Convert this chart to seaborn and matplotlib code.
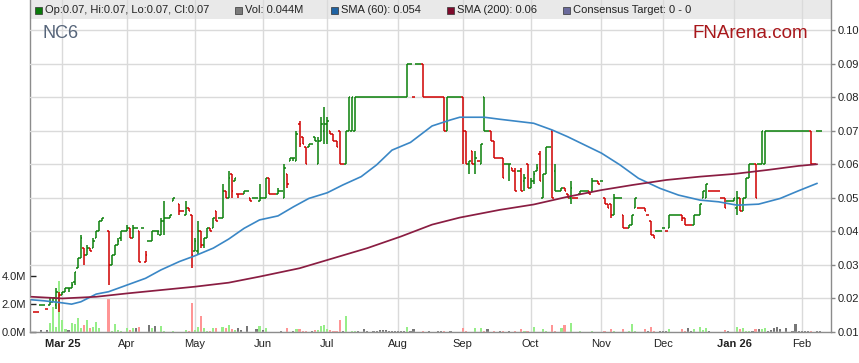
import numpy as np
import pandas as pd
import matplotlib
matplotlib.use("Agg")
import matplotlib.pyplot as plt
from matplotlib.patches import Rectangle
from matplotlib.ticker import FuncFormatter
import seaborn as sns

# trading days (Mon-Fri) from 17 Feb 2025, prices in tenths of a cent (0.001 $)
start_date = "2025-02-17"
n_days = 260
ticker = "NC6"

opens = [
    None, 16, 16, 18, 18, 17, 18, 19, 18, 20,  # Feb
    21, 22, 23, 23, 25, 29, 32, 35, 33, 35, 35, 38, 40, 43, None, 40, 30, 33, 36, 38, 40,  # Mar
    40, 41, 38, 41, 40, 41, 31, 37, 37, 40, 40, 39, 43, 44, 44, 49, None, 48, 46, 45, 47, 45,  # Apr
    34, 34, 40, 36, 38, 41, 41, 46, 44, 44, 52, 50, 57, 55, 51, 51, 51, 52, 50, 50, 50, 49,  # May
    50, 50, 56, 51, 51, 51, 52, 50, 57, 61, 62, 61, 72, 68, 65, 65, 66, 68, 60, 67, 70,  # Jun
    72, 70, 69, 67, 70, 60, 60, 70, 70, 70, 80, 80, 80, 80, 80, 80, 80, 80, 80, 80, 80, 80, 80,  # Jul
    80, 80, 80, 80, 90, 80, 90, 90, 90, 80, 80, 80, 80, 80, 80, 80, 70, 80, 80, 80, 80,  # Aug
    80, 70, 60, 64, 60, 61, 60, 80, 70, 70, 67, 62, 62, 62, 60, 60, 59, 58, 58, 58, 55, 60,  # Sep
    53, 55, 58, 63, 50, 57, 65, 70, 58, 52, 52, 53, 51, 50, 50, 50, 51, 52, 52, 52, 52, 55, 55,  # Oct
    55, 50, 48, 48, 45, 50, 50, 45, 41, 41, 42, 47, 47, 47, 47, 45, 43, 39, 40, 40,  # Nov
    41, 40, 41, 45, 45, 45, 45, 44, 42, 42, 42, 45, 45, 50, 50, 52, 52, 52, 52, 50, 50, 49, 49,  # Dec
    49, 47, 50, 46, 50, 56, 60, 60, 60, 60, 60, 70, 70, 70, 70, 70, 70, 70, 70, 70, 70, 70,  # Jan
    70, 70, 70, 70, 60, 70, 70,  # Feb
]
highs = [
    None, 16, 16, 18, 18, 17, 20, 20, 23, 22,
    22, 23, 23, 25, 28, 32, 39, 35, 36, 35, 38, 40, 43, 44, None, 40, 33, 36, 38, 40, 40,
    42, 41, 42, 41, 40, 41, 34, 37, 40, 40, 40, 44, 49, 44, 45, 50, None, 48, 46, 49, 47, 45,
    38, 43, 40, 38, 41, 41, 44, 46, 44, 54, 52, 58, 57, 56, 51, 51, 52, 52, 50, 50, 50, 54,
    50, 56, 56, 51, 51, 53, 52, 60, 57, 62, 62, 70, 73, 68, 65, 66, 66, 68, 68, 74, 77,
    74, 70, 69, 67, 70, 60, 70, 80, 80, 80, 80, 80, 80, 80, 80, 80, 80, 80, 80, 80, 80, 80, 80,
    80, 80, 80, 90, 90, 80, 90, 90, 90, 80, 80, 80, 80, 80, 80, 80, 80, 80, 80, 80, 80,
    80, 70, 61, 64, 64, 61, 66, 80, 70, 70, 67, 62, 62, 62, 60, 60, 59, 59, 58, 59, 57, 60,
    56, 58, 60, 64, 57, 65, 65, 70, 60, 52, 53, 53, 51, 55, 50, 50, 52, 52, 52, 52, 56, 55, 55,
    55, 50, 48, 48, 51, 50, 50, 45, 41, 42, 45, 50, 47, 47, 47, 45, 43, 39, 40, 40,
    41, 40, 45, 45, 45, 45, 45, 44, 42, 42, 45, 45, 48, 52, 54, 52, 52, 52, 52, 50, 50, 49, 49,
    50, 52, 50, 50, 56, 60, 60, 60, 60, 70, 70, 70, 70, 70, 70, 70, 70, 70, 70, 70, 70, 70,
    70, 70, 70, 70, 60, 70, 70,
]
lows = [
    None, 16, 16, 18, 18, 17, 18, 19, 17, 16,
    21, 22, 22, 23, 24, 29, 32, 30, 33, 34, 35, 38, 40, 43, None, 24, 30, 33, 36, 37, 40,
    40, 38, 38, 41, 31, 41, 31, 37, 37, 40, 39, 39, 39, 44, 44, 49, None, 45, 46, 45, 46, 29,
    34, 33, 35, 35, 38, 40, 41, 43, 44, 44, 50, 50, 50, 55, 50, 51, 51, 52, 49, 50, 50, 49,
    50, 50, 51, 51, 51, 51, 52, 50, 53, 61, 61, 61, 65, 66, 60, 65, 66, 67, 60, 67, 66,
    66, 69, 67, 65, 60, 60, 60, 70, 70, 70, 80, 80, 80, 80, 80, 80, 80, 80, 80, 80, 80, 80, 80,
    80, 80, 80, 80, 90, 80, 90, 90, 80, 80, 80, 80, 80, 80, 80, 70, 70, 80, 80, 80, 80,
    60, 60, 57, 60, 57, 61, 60, 70, 70, 67, 62, 62, 62, 56, 60, 55, 58, 52, 58, 52, 52, 53,
    53, 54, 58, 55, 50, 57, 65, 50, 52, 52, 52, 52, 50, 48, 50, 50, 51, 52, 52, 51, 52, 55, 54,
    55, 48, 47, 44, 45, 50, 50, 41, 41, 41, 42, 47, 47, 47, 46, 45, 39, 38, 40, 40,
    41, 40, 41, 45, 45, 45, 43, 42, 42, 42, 42, 45, 45, 50, 50, 52, 52, 52, 52, 50, 47, 49, 49,
    49, 45, 46, 46, 50, 56, 60, 50, 60, 60, 60, 70, 70, 70, 70, 70, 70, 70, 70, 70, 70, 70,
    70, 70, 70, 60, 60, 70, 70,
]
closes = [
    None, 16, 16, 18, 18, 17, 19, 20, 22, 21,
    22, 23, 23, 24, 28, 32, 38, 33, 35, 34, 37, 40, 43, 44, None, 30, 33, 36, 37, 40, 40,
    41, 38, 41, 41, 31, 41, 33, 37, 40, 40, 40, 43, 44, 44, 45, 50, None, 46, 46, 47, 46, 33,
    37, 40, 36, 38, 41, 40, 44, 43, 44, 52, 50, 56, 52, 56, 51, 51, 52, 52, 49, 50, 50, 50,
    50, 56, 51, 51, 51, 52, 52, 59, 54, 62, 62, 69, 66, 66, 60, 66, 66, 67, 67, 72, 72,
    73, 69, 67, 65, 60, 60, 70, 80, 80, 80, 80, 80, 80, 80, 80, 80, 80, 80, 80, 80, 80, 80, 80,
    80, 80, 80, 90, 90, 80, 90, 90, 80, 80, 80, 80, 80, 80, 80, 70, 80, 80, 80, 80, 80,
    70, 60, 61, 60, 62, 61, 66, 70, 70, 67, 62, 62, 62, 56, 60, 60, 58, 52, 58, 52, 56, 53,
    55, 57, 59, 55, 57, 65, 65, 50, 52, 52, 53, 52, 50, 53, 50, 50, 52, 52, 52, 51, 55, 55, 54,
    55, 48, 47, 45, 50, 50, 50, 41, 41, 42, 45, 50, 47, 47, 46, 45, 39, 38, 40, 40,
    41, 40, 45, 45, 45, 45, 44, 42, 42, 42, 45, 45, 48, 52, 54, 52, 52, 52, 52, 50, 47, 49, 49,
    50, 50, 46, 50, 56, 60, 60, 50, 60, 70, 70, 70, 70, 70, 70, 70, 70, 70, 70, 70, 70, 70,
    70, 70, 70, 60, 60, 70, 70,
]
# volume, millions of shares
volume = [
    0, 0, 0, 0.14, 0, 0.14, 0.67, 1.76, 0.38, 3.67,
    0.86, 0.21, 0.14, 0.67, 0.55, 1.0, 0.26, 0.5, 0.86, 0.26, 0.38, 0.74, 0.31, 0, 0, 2.4, 0.1, 0.57, 0.14, 0.1, 0,
    0.26, 0.14, 0.26, 0.26, 0.38, 0, 0, 0.5, 0.26, 0.43, 0, 0.43, 0.07, 0, 0, 0.07, 0, 0, 0, 0.14, 0.1, 2.05,
    0.14, 0.33, 1.14, 0.31, 0.1, 0.1, 0.26, 0.26, 0, 0.38, 0.26, 0.5, 0.21, 0.14, 0.26, 0.14, 0, 0.43, 0, 0, 0.19, 0.43,
    0.14, 0.31, 0, 0, 0, 0, 0.1, 0, 0.31, 0, 0.07, 0.19, 0.19, 0.1, 0.1, 0, 0.1, 0.14, 0.14, 0.43, 0.5,
    0.19, 0.14, 0.07, 0.07, 0.86, 0.07, 1.14, 0, 0.1, 0.1, 0.1, 0, 0.19, 0.07, 0, 0.07, 0.1, 0.14, 0.17, 0.17, 0.07, 0.07, 0.1,
    0.07, 0.07, 0.07, 0.38, 0.07, 0.21, 0, 0, 0.07, 0, 0.07, 0, 0, 0.1, 0.07, 0.1, 0, 0.07, 0, 0, 0,
    0.26, 0.1, 0, 0, 0.26, 0, 0.26, 0.07, 0.21, 0, 0.1, 0, 0.1, 0.07, 0, 0.1, 0, 0.1, 0, 0.21, 0.07, 0.07,
    0, 0.33, 0, 0, 0.21, 0.1, 0, 0.47, 0.07, 0, 0.26, 0.5, 0, 0.67, 0, 0, 0.07, 0, 0, 0, 0.07, 0, 0,
    0, 0.1, 0, 0.21, 0.1, 0, 0, 0.21, 0, 0.07, 0.57, 0.1, 0, 0, 0.19, 0.1, 0.33, 0.07, 0, 0.07,
    0.07, 0.07, 0.21, 0, 0, 0, 0.21, 0.1, 0.26, 0.07, 0.21, 0, 0.33, 0.14, 0.26, 0.07, 0, 0, 0, 0, 0.14, 0.07, 0,
    0, 0.33, 0.21, 0.26, 0.07, 0.07, 0.07, 0.21, 0.21, 0.21, 0.26, 0.1, 0.14, 0.26, 0.33, 0.19, 0, 0.26, 0, 0.07, 0.55, 0.07,
    0.07, 0.07, 0.1, 0.1, 0, 0.07, 0.044,
]

# moving averages as drawn on the chart (trading-day number, price)
sma60_day = [0, 4, 9, 13, 16, 21, 25, 31, 37, 42, 48, 53, 59, 64, 69, 74, 80, 85, 90, 96,
             101, 107, 112, 117, 123, 130, 136, 139, 147, 152, 163, 169, 174, 185, 191,
             197, 204, 210, 217, 223, 229, 236, 243, 249, 255]
sma60 = [0.0196, 0.0193, 0.0188, 0.0183, 0.0190, 0.0213, 0.0220, 0.0240, 0.0260, 0.0285,
         0.0310, 0.0327, 0.0350, 0.0377, 0.0409, 0.0434, 0.0446, 0.0473, 0.0498, 0.0515,
         0.0538, 0.0563, 0.0598, 0.0642, 0.0665, 0.0714, 0.0732, 0.0740, 0.0740, 0.0734,
         0.0722, 0.0702, 0.0682, 0.0633, 0.0598, 0.0558, 0.0528, 0.0508, 0.0493, 0.0488,
         0.0478, 0.0481, 0.0498, 0.0521, 0.0543]
sma200_day = [0, 10, 21, 31, 42, 53, 64, 74, 87, 98, 109, 120, 130, 139, 152, 163, 174,
              185, 195, 206, 217, 228, 239, 249, 255]
sma200 = [0.0205, 0.0200, 0.0205, 0.0215, 0.0225, 0.0235, 0.0247, 0.0265, 0.0290, 0.0320,
          0.0350, 0.0385, 0.0420, 0.0441, 0.0464, 0.0480, 0.0503, 0.0523, 0.0538, 0.0553,
          0.0563, 0.0571, 0.0583, 0.0595, 0.0600]

legend_items = ["Op:0.07, Hi:0.07, Lo:0.07, Cl:0.07", "Vol: 0.044M", "SMA (60): 0.054",
                "SMA (200): 0.06", "Consensus Target: 0 - 0"]

sns.set_style("white")
plt.rcParams["font.family"] = ["Liberation Sans", "DejaVu Sans"]

UP, DOWN = "#0a800a", "#d00000"
dates = pd.bdate_range(start_date, periods=n_days)

df = pd.DataFrame({"open": opens, "high": highs, "low": lows, "close": closes},
                  dtype=float) / 1000
df["vol"] = volume
df["day"] = np.arange(len(df))
df = df.dropna(subset=["close"]).reset_index(drop=True)

# bar colour follows the change against the previous close
cols, last, prev = [], DOWN, None
for c in df["close"]:
    if prev is not None:
        if c > prev:
            last = UP
        elif c < prev:
            last = DOWN
    cols.append(last)
    prev = c
df["col"] = cols
df["vcol"] = np.where(df["close"] > df["open"], "#96ee88",
                      np.where(df["close"] < df["open"], "#ff9595", "#777777"))

W, H = 859, 363
fig = plt.figure(figsize=(W / 100, H / 100), dpi=100)
ax = fig.add_axes([30 / W, (H - 332) / H, (831 - 30) / W, 332 / H])
ax2 = ax.twinx()

# header band
band = 19 / 332
ax.add_patch(Rectangle((0, 1 - band), 1, band, transform=ax.transAxes,
                       facecolor="#e9e9e9", edgecolor="none", zorder=0.1))

# volume
ax.bar(df["day"], df["vol"], width=0.7, color=df["vcol"], lw=0, antialiased=False, zorder=2)
ax.set_ylim(0, 332 / 14)
ax.set_yticks([0, 2, 4])
ax.yaxis.set_major_formatter(FuncFormatter(lambda v, p: f"{v:.1f}M"))
ax.tick_params(axis="y", direction="in", length=4, width=1, color="#222",
               labelsize=8, labelcolor="#222", pad=3)

# price bars: high-low line, open tick left, close tick right
ax2.vlines(df["day"], df["low"], df["high"], colors=df["col"], lw=1.1, zorder=3)
ax2.hlines(df["open"], df["day"] - 0.5, df["day"], colors=df["col"], lw=1.1, zorder=3)
ax2.hlines(df["close"], df["day"], df["day"] + 0.5, colors=df["col"], lw=1.1, zorder=3)

sns.lineplot(x=sma60_day, y=sma60, ax=ax2, color="#3a87c6", lw=1.2, zorder=4)
sns.lineplot(x=sma200_day, y=sma200, ax=ax2, color="#8a1d42", lw=1.25, zorder=4)

ax2.set_ylim(0.01, 0.10 + 30 / 3356)
ax2.set_yticks(np.arange(0.01, 0.1001, 0.01))
ax2.yaxis.set_major_formatter(FuncFormatter(lambda v, p: f"{v:.2f}"))
ax2.tick_params(axis="y", direction="out", length=3, width=1, color="#888",
                labelsize=8, labelcolor="#222", pad=2)
ax2.set_ylabel("")

# month ticks
ticks = [i for i in range(1, n_days) if dates[i].month != dates[i - 1].month]
labels, bold = [], []
for k, i in enumerate(ticks):
    yr = k == 0 or dates[i].month == 1
    labels.append(dates[i].strftime("%b %y") if yr else dates[i].strftime("%b"))
    bold.append(yr)
ax.set_xticks(ticks)
ax.set_xticklabels(labels)
for t, b in zip(ax.get_xticklabels(), bold):
    t.set_fontweight("bold" if b else "normal")
ax.tick_params(axis="x", direction="out", length=3, width=1, color="#888",
               labelsize=8, labelcolor="#222", pad=2)
ax.set_xlim(-0.5, n_days - 0.5)

ax.grid(axis="x", color="#dadada", lw=1)
ax2.grid(axis="y", color="#dadada", lw=1)
ax.set_axisbelow(True)
ax2.set_axisbelow(True)

for s in ["top", "right"]:
    ax.spines[s].set_visible(False)
for s in ["top", "left", "bottom"]:
    ax2.spines[s].set_visible(False)
for a, s in [(ax, "left"), (ax, "bottom"), (ax2, "right")]:
    a.spines[s].set_color("#8c8c8c")
    a.spines[s].set_linewidth(1)

# titles
fig.text(43 / W, 1 - 33 / H, ticker, fontsize=13, color="#56657a", va="center")
fig.text(693 / W, 1 - 33 / H, "FNArena.com", fontsize=13.5, color="#a8171b", va="center")

# legend strip
sq_x = [35, 235, 331, 447, 563]
sq_c = ["#0a7a0a", "#7a7a7a", "#1f63a3", "#7e0a2c", "#6a6a9c"]
for x, c, txt in zip(sq_x, sq_c, legend_items):
    fig.add_artist(Rectangle((x / W, 1 - 13.5 / H), 7 / W, 7 / H, transform=fig.transFigure,
                             facecolor=c, edgecolor="#333", lw=0.5))
    fig.text((x + 10) / W, 1 - 10 / H, txt, fontsize=8, color="#222", va="center")

fig.savefig("out.png", dpi=100)
